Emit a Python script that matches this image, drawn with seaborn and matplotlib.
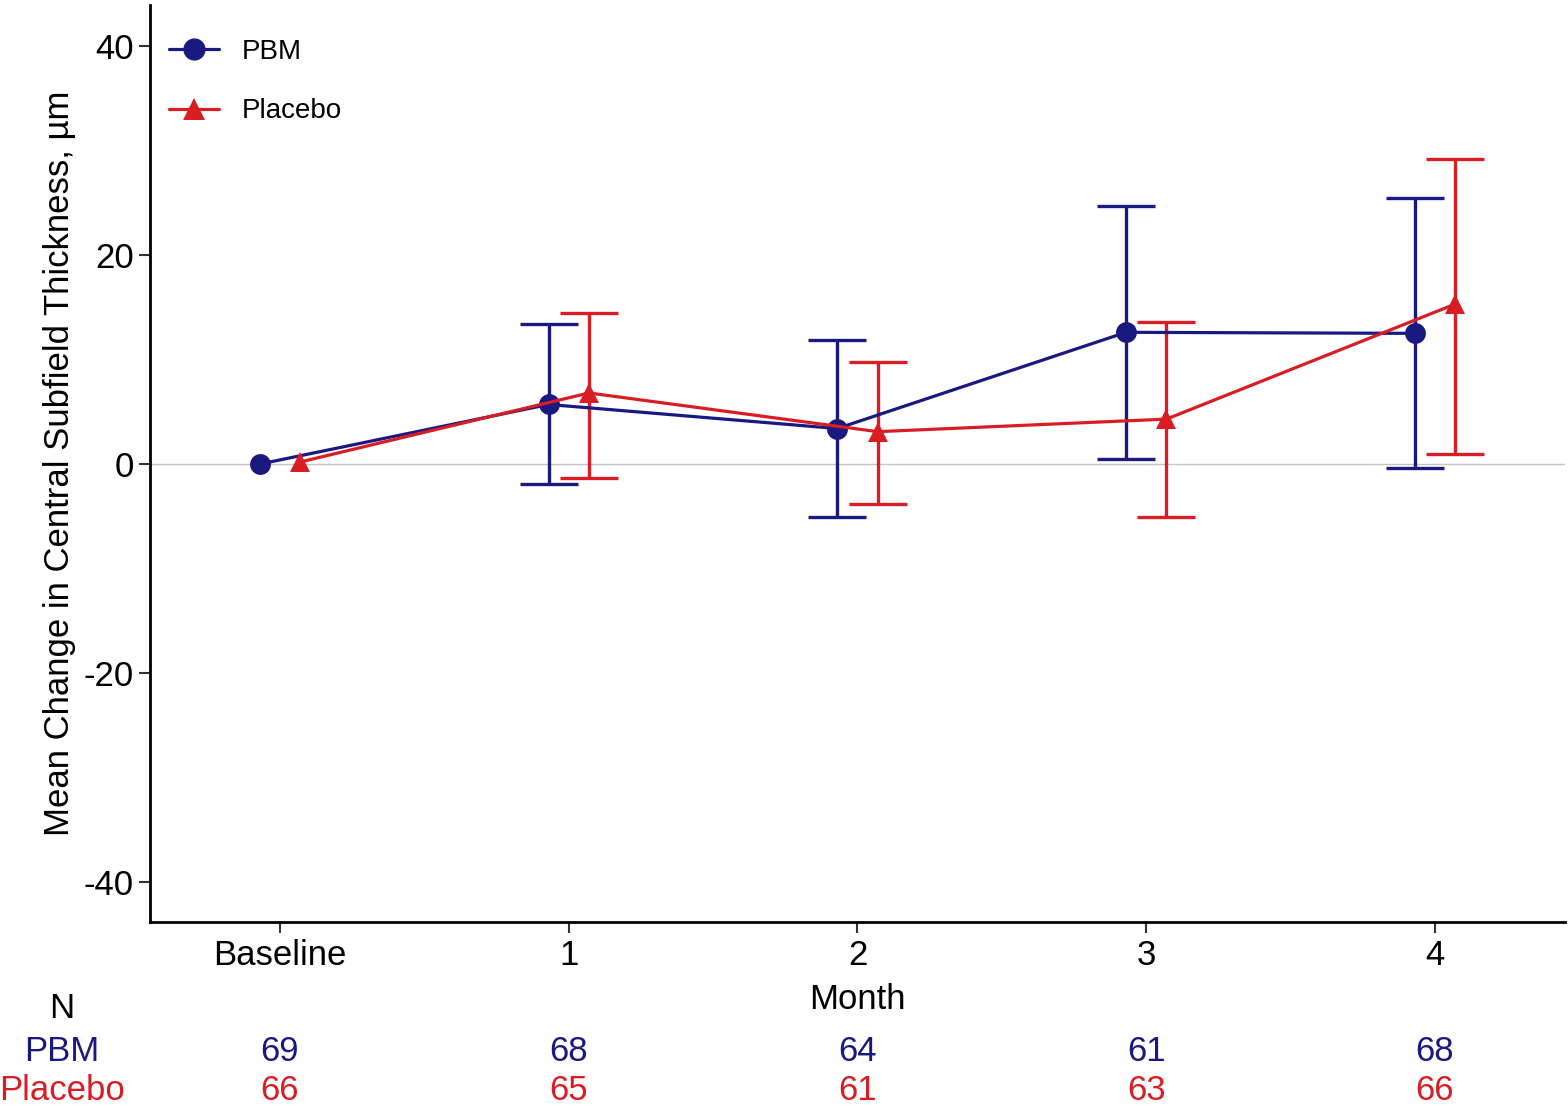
import numpy as np
import pandas as pd
import matplotlib
matplotlib.use("Agg")
import matplotlib.pyplot as plt
import seaborn as sns
from matplotlib.transforms import blended_transform_factory

# ---- data ----
months = ["Baseline", "1", "2", "3", "4"]
pbm_mean = [0.0, 5.7, 3.4, 12.6, 12.5]
pbm_low = [0.0, -1.9, -5.1, 0.5, -0.4]
pbm_high = [0.0, 13.4, 11.9, 24.7, 25.4]
pla_mean = [0.2, 6.8, 3.1, 4.3, 15.3]
pla_low = [0.2, -1.3, -3.8, -5.1, 1.0]
pla_high = [0.2, 14.4, 9.8, 13.6, 29.2]
n_pbm = [69, 68, 64, 61, 68]
n_pla = [66, 65, 61, 63, 66]
groups = ["PBM", "Placebo"]

navy = "#191980"
red = "#D81E24"
palette = {"PBM": navy, "Placebo": red}

sns.set_theme(style="ticks")
plt.rcParams["font.family"] = ["Liberation Sans", "DejaVu Sans"]
plt.rcParams["text.color"] = "black"
plt.rcParams["axes.labelcolor"] = "black"

pos = np.arange(len(months))
dodge = 0.07
rows = []
for g, m, lo, hi, off in [("PBM", pbm_mean, pbm_low, pbm_high, -dodge),
                          ("Placebo", pla_mean, pla_low, pla_high, dodge)]:
    for i in range(len(months)):
        rows.append(dict(group=g, x=pos[i] + off, mean=m[i], low=lo[i], high=hi[i]))
df = pd.DataFrame(rows)

fig = plt.figure(figsize=(15.68, 11.07), dpi=100)
ax = fig.add_axes([0.0957, 0.167, 0.9023, 0.8285])

ax.axhline(0, color="#C4C4C4", lw=1.0, zorder=0)

for g in groups:
    d = df[(df.group == g) & (df.index % len(months) != 0)]
    ax.errorbar(d.x, d["mean"], yerr=[d["mean"] - d.low, d.high - d["mean"]],
                fmt="none", ecolor=palette[g], elinewidth=2.4, capsize=21,
                capthick=2.4, zorder=2)

sns.lineplot(data=df, x="x", y="mean", hue="group", style="group",
             palette=palette, markers={"PBM": "o", "Placebo": "^"},
             dashes=False, linewidth=2.3, markersize=15, markeredgewidth=0,
             sort=True, ax=ax, zorder=3)

ax.set_xlim(-0.45, 4.45)
ax.set_ylim(-43.8, 43.9)
ax.set_yticks([-40, -20, 0, 20, 40])
ax.set_yticklabels(["-40", "-20", "0", "20", "40"])
ax.set_xticks(pos)
ax.set_xticklabels(months)
ax.tick_params(axis="both", labelsize=25, length=8, width=1.5, color="#333333",
               labelcolor="black")
ax.tick_params(axis="x", pad=4)
ax.set_xlabel("Month", fontsize=25, labelpad=8)
ax.set_ylabel("Mean Change in Central Subfield Thickness, µm", fontsize=25, labelpad=6)
for s in ["top", "right"]:
    ax.spines[s].set_visible(False)
for s in ["left", "bottom"]:
    ax.spines[s].set_linewidth(2.0)
    ax.spines[s].set_color("black")

leg = ax.legend(loc="upper left", frameon=False, fontsize=20, handlelength=1.8,
                handletextpad=0.8, labelspacing=1.2,
                bbox_to_anchor=(-0.004, 0.99), borderaxespad=0.5)
for h in leg.legend_handles:
    h.set_markersize(16)
for t in leg.get_texts():
    t.set_color("black")

# N table
tr = blended_transform_factory(ax.transData, fig.transFigure)
fig.text(0.0395, 0.089, "N", ha="center", va="center", fontsize=25, color="black")
fig.text(0.0395, 0.0505, "PBM", ha="center", va="center", fontsize=25, color=navy)
fig.text(0.0395, 0.0145, "Placebo", ha="center", va="center", fontsize=25, color=red)
for i in range(len(months)):
    ax.text(pos[i], 0.0505, str(n_pbm[i]), transform=tr, ha="center", va="center",
            fontsize=25, color=navy, clip_on=False)
    ax.text(pos[i], 0.0145, str(n_pla[i]), transform=tr, ha="center", va="center",
            fontsize=25, color=red, clip_on=False)

fig.savefig("out.png", dpi=100)
